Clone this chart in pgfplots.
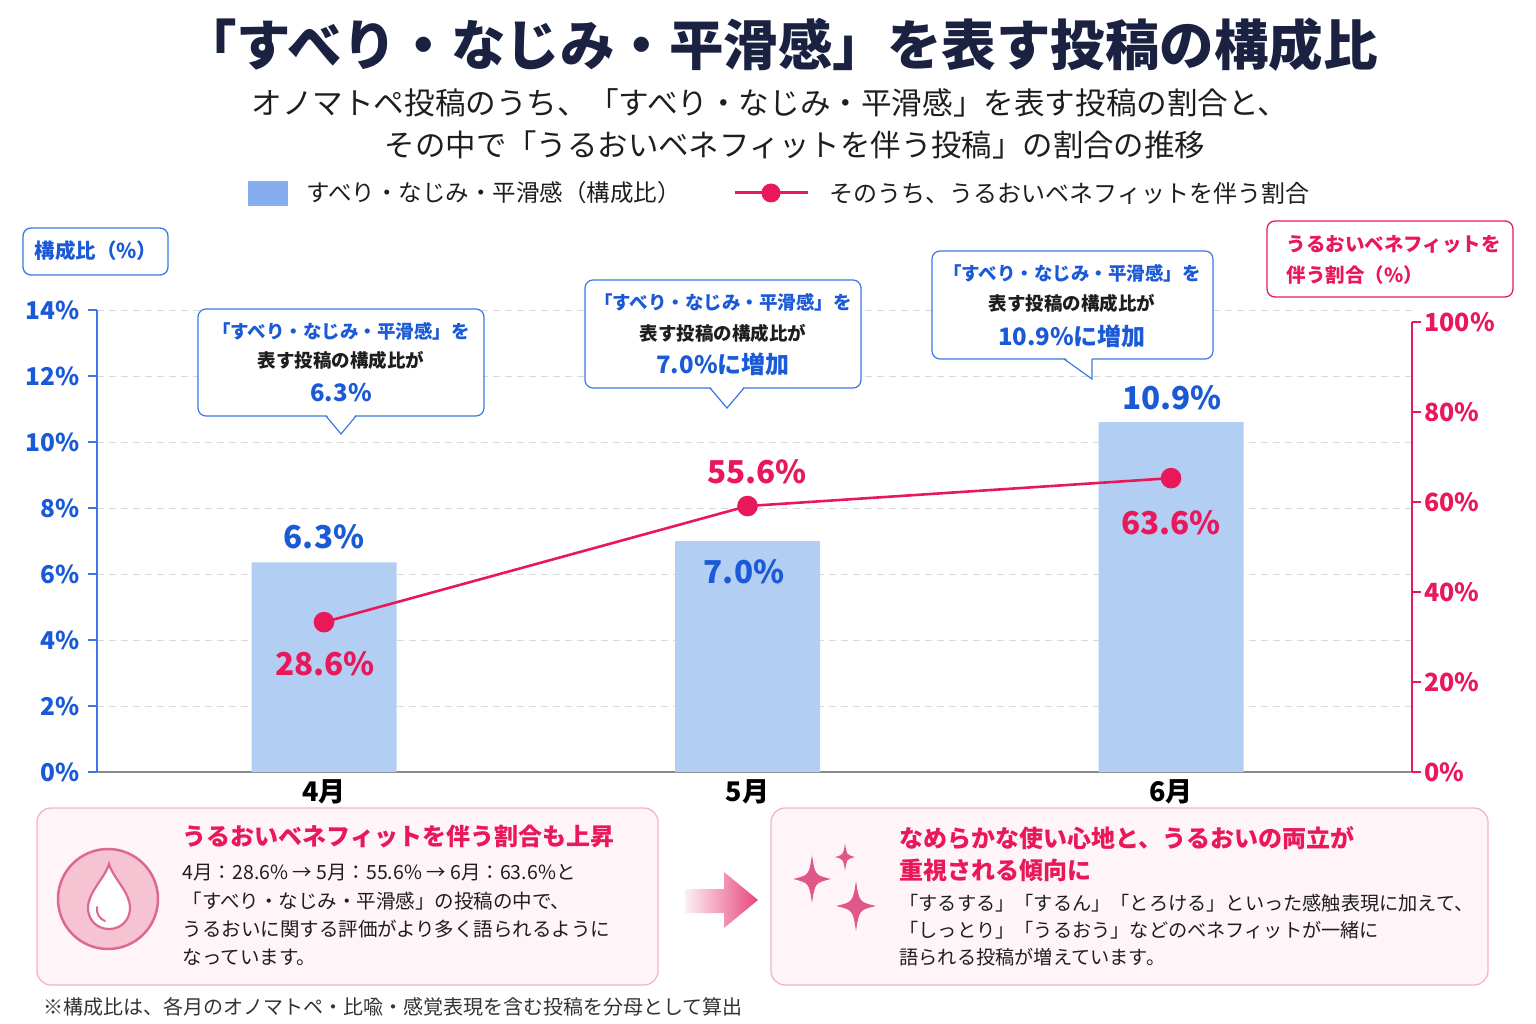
\documentclass[border=0pt]{standalone}
\usepackage{fontspec}
\setmainfont{Noto Sans CJK JP}
\usepackage{pgfplots}
\pgfplotsset{compat=1.18}
\definecolor{navy}{HTML}{1B2140}
\definecolor{bluetxt}{HTML}{1A5AD7}
\definecolor{blueaxis}{HTML}{3A78E6}
\definecolor{barblue}{HTML}{B3CEF3}
\definecolor{legblue}{HTML}{86ADEF}
\definecolor{pinkc}{HTML}{E8185B}
\definecolor{gridc}{HTML}{DADADA}
\definecolor{axisgray}{HTML}{8A8A8A}
\definecolor{pbord}{HTML}{F4B4C8}
\definecolor{pfill}{HTML}{FFF4F7}
\definecolor{darktxt}{HTML}{1E1E1E}
\definecolor{foot}{HTML}{333333}
\definecolor{spark}{HTML}{E0588A}
\definecolor{arrowpink}{HTML}{E8457A}
\definecolor{dropline}{HTML}{DB6A90}
\definecolor{dropfill}{HTML}{F6C3D3}
\newcommand{\fs}[1]{\fontsize{#1}{#1}\selectfont}
\newcommand{\callout}[8]{%
  \draw[blueaxis, line width=1.2pt, fill=white, rounded corners=8pt] (#1,#2) rectangle (#3,#4);
  \fill[white] (#5,#4-2) -- (#7,#8) -- (#6,#4-2) -- cycle;
  \draw[blueaxis, line width=1.2pt] (#5,#4) -- (#7,#8) -- (#6,#4);
}
\newcommand{\sparkle}[4]{%
  \fill[spark] (#1,#2-#4) .. controls (#1+0.16*#3,#2-0.16*#4) .. (#1+#3,#2)
     .. controls (#1+0.16*#3,#2+0.16*#4) .. (#1,#2+#4)
     .. controls (#1-0.16*#3,#2+0.16*#4) .. (#1-#3,#2)
     .. controls (#1-0.16*#3,#2-0.16*#4) .. cycle;
}
\begin{document}
\begin{tikzpicture}
\fill[white] (0pt,0pt) rectangle (1536pt,-1024pt);
\begin{scope}[x=1pt,y=-1pt]
  % title
  \node[text=navy, font=\fs{54.5}\bfseries] at (780,45) {「すべり・なじみ・平滑感」を表す投稿の構成比};
  \node[text=darktxt, font=\fs{30.6}] at (770,103) {オノマトペ投稿のうち、「すべり・なじみ・平滑感」を表す投稿の割合と、};
  \node[text=darktxt, font=\fs{30.4}] at (795,145) {その中で「うるおいベネフィットを伴う投稿」の割合の推移};
  % legend
  \fill[legblue] (248,181) rectangle (288,206);
  \node[anchor=west, text=darktxt, font=\fs{23.5}] at (303,193) {すべり・なじみ・平滑感（構成比）};
  \draw[pinkc, line width=3pt] (735,193) -- (808,193);
  \fill[pinkc] (771,193) circle (9.5);
  \node[anchor=west, text=darktxt, font=\fs{24}] at (826,193) {そのうち、うるおいベネフィットを伴う割合};
  % axis label boxes
  \draw[blueaxis, line width=1.3pt, fill=white, rounded corners=8pt] (23,228) rectangle (168,275);
  \node[text=bluetxt, font=\fs{20.5}\bfseries] at (96,251) {構成比（\%）};
  \draw[pinkc, line width=1.3pt, fill=white, rounded corners=8pt] (1267,221) rectangle (1513,297);
  \node[anchor=west, text=pinkc, font=\fs{19.5}\bfseries] at (1283,244) {うるおいベネフィットを};
  \node[anchor=west, text=pinkc, font=\fs{19.5}\bfseries] at (1283,275) {伴う割合（\%）};
\end{scope}

\begin{axis}[
  at={(97pt,-772pt)}, anchor=south west, scale only axis,
  width=1315pt, height=462pt,
  xmin=-0.536, xmax=2.569, ymin=0, ymax=14,
  axis x line*=bottom, axis y line*=left,
  x axis line style={draw=axisgray, line width=1.2pt},
  y axis line style={draw=blueaxis, line width=1.5pt},
  xtick={0,1,2}, xticklabels={4月,5月,6月},
  xtick style={draw=none},
  ytick={0,2,...,14}, yticklabels={0\%,2\%,4\%,6\%,8\%,10\%,12\%,14\%},
  ytick style={draw=blueaxis, line width=1.5pt},
  tick align=outside, major tick length=9pt,
  ymajorgrids, grid style={gridc, line width=1pt, dash pattern=on 7pt off 5pt},
  yticklabel style={font=\fs{24.5}\bfseries, text=bluetxt, xshift=-5pt},
  xticklabel style={font=\fs{27}\bfseries, text=black, yshift=5pt},
  clip=false,
]
\addplot[ybar, bar width=145pt, fill=barblue, draw=none] coordinates {(0,6.35) (1,7.0) (2,10.6)};
\end{axis}

\begin{axis}[
  at={(97pt,-772pt)}, anchor=south west, scale only axis,
  width=1315pt, height=450pt,
  xmin=-0.536, xmax=2.569, ymin=0, ymax=100,
  axis x line=none, axis y line*=right,
  y axis line style={draw=pinkc, line width=1.5pt},
  ytick={0,20,...,100}, yticklabels={0\%,20\%,40\%,60\%,80\%,100\%},
  ytick style={draw=pinkc, line width=1.5pt},
  tick align=outside, major tick length=9pt,
  yticklabel style={font=\fs{25}\bfseries, text=pinkc},
  clip=false,
]
\addplot[pinkc, line width=2.6pt, mark=*, mark size=9pt, mark options={fill=pinkc, draw=pinkc, solid}] coordinates {(0,33.3) (1,59.1) (2,65.3)};
\end{axis}

\begin{scope}[x=1pt,y=-1pt]
  % value labels
  \node[text=bluetxt, font=\fs{31.5}\bfseries] at (324,537) {6.3\%};
  \node[text=bluetxt, font=\fs{31.5}\bfseries] at (744,572) {7.0\%};
  \node[text=bluetxt, font=\fs{31.5}\bfseries] at (1172,398) {10.9\%};
  \node[text=pinkc, font=\fs{31.5}\bfseries] at (325,664) {28.6\%};
  \node[text=pinkc, font=\fs{31.5}\bfseries] at (757,472) {55.6\%};
  \node[text=pinkc, font=\fs{31.5}\bfseries] at (1171,523) {63.6\%};
  % callouts
  \callout{198}{309}{484}{416}{326}{356}{341}{434}
  \node[text=bluetxt, font=\fs{18.5}\bfseries] at (341,331) {「すべり・なじみ・平滑感」を};
  \node[text=darktxt, font=\fs{18.5}\bfseries] at (341,360) {表す投稿の構成比が};
  \node[text=bluetxt, font=\fs{24}\bfseries] at (341,393) {6.3\%};
  \callout{585}{280}{861}{388}{710}{744}{727}{408}
  \node[text=bluetxt, font=\fs{18.5}\bfseries] at (723,302) {「すべり・なじみ・平滑感」を};
  \node[text=darktxt, font=\fs{18.5}\bfseries] at (723,333) {表す投稿の構成比が};
  \node[text=bluetxt, font=\fs{24}\bfseries] at (723,364) {7.0\%に増加};
  \callout{932}{251}{1213}{359}{1064}{1092}{1092}{379}
  \node[text=bluetxt, font=\fs{18.5}\bfseries] at (1072,273) {「すべり・なじみ・平滑感」を};
  \node[text=darktxt, font=\fs{18.5}\bfseries] at (1072,303) {表す投稿の構成比が};
  \node[text=bluetxt, font=\fs{24}\bfseries] at (1072,336) {10.9\%に増加};
  % bottom boxes
  \draw[pbord, fill=pfill, line width=1.3pt, rounded corners=14pt] (37,808) rectangle (658,985);
  \draw[pbord, fill=pfill, line width=1.3pt, rounded corners=14pt] (771,808) rectangle (1488,985);
  % drop icon
  \draw[dropline, fill=dropfill, line width=2.5pt] (108,899) circle (50);
  \draw[dropline, line width=2.2pt, fill=white] (109,864) .. controls (105,878) and (88,892) .. (88,908)
     .. controls (88,920) and (97,929) .. (109,929) .. controls (121,929) and (130,920) .. (130,908)
     .. controls (130,892) and (113,878) .. (109,864) -- cycle;
  \draw[dropline, line width=2pt, line cap=round] (97,907) .. controls (96,914) and (100,919) .. (105,921);
  \node[anchor=west, text=pinkc, font=\fs{24}\bfseries] at (179,836) {うるおいベネフィットを伴う割合も上昇};
  \node[anchor=west, text=darktxt, font=\fs{19.5}] at (179,873) {4月：28.6\% → 5月：55.6\% → 6月：63.6\%と};
  \node[anchor=west, text=darktxt, font=\fs{19.5}] at (179,901) {「すべり・なじみ・平滑感」の投稿の中で、};
  \node[anchor=west, text=darktxt, font=\fs{19.5}] at (179,929) {うるおいに関する評価がより多く語られるように};
  \node[anchor=west, text=darktxt, font=\fs{19.5}] at (179,957) {なっています。};
  % arrow
  \shade[left color=arrowpink!8, right color=arrowpink] (685,889) -- (724,889) -- (724,872) -- (758,900) -- (724,928) -- (724,913) -- (685,913) -- cycle;
  % sparkles
  \sparkle{812}{879}{19}{24}
  \sparkle{845}{857}{10}{14}
  \sparkle{856}{906}{20}{25}
  \node[anchor=west, text=pinkc, font=\fs{24}\bfseries] at (896,838) {なめらかな使い心地と、うるおいの両立が};
  \node[anchor=west, text=pinkc, font=\fs{24}\bfseries] at (896,870) {重視される傾向に};
  \node[anchor=west, text=darktxt, font=\fs{19.2}] at (896,903) {「するする」「するん」「とろける」といった感触表現に加えて、};
  \node[anchor=west, text=darktxt, font=\fs{19.2}] at (896,930) {「しっとり」「うるおう」などのベネフィットが一緒に};
  \node[anchor=west, text=darktxt, font=\fs{19.2}] at (896,957) {語られる投稿が増えています。};
  % footnote
  \node[anchor=west, text=foot, font=\fs{20}] at (40,1007) {※構成比は、各月のオノマトペ・比喩・感覚表現を含む投稿を分母として算出};
\end{scope}
\pgfresetboundingbox
\useasboundingbox (0pt,0pt) rectangle (1536pt,-1024pt);
\end{tikzpicture}
\end{document}
